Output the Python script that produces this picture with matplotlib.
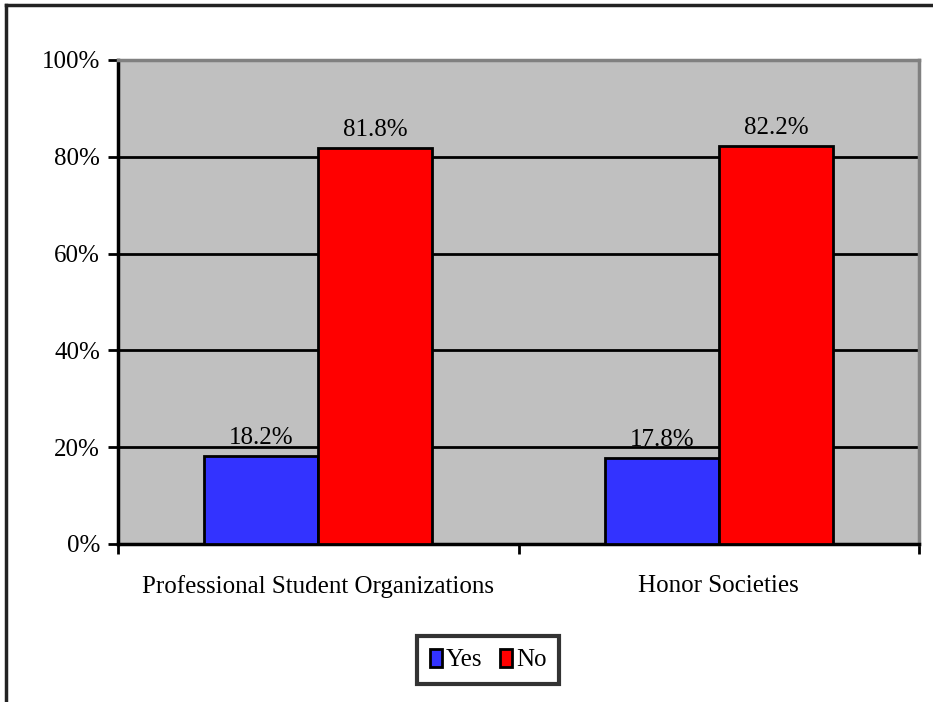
import matplotlib
matplotlib.use("Agg")
import matplotlib.pyplot as plt
from matplotlib.lines import Line2D
from matplotlib.patches import Patch
import numpy as np

categories = ["Professional Student Organizations", "Honor Societies"]
series_names = ["Yes", "No"]
yes_values = [18.2, 17.8]
no_values = [81.8, 82.2]
yticks = [0, 20, 40, 60, 80, 100]
colors = ["#3333FF", "#FF0000"]

plt.rcParams['font.family'] = ['Liberation Serif', 'DejaVu Serif']

W, H = 933, 702
FS = 18
fig = plt.figure(figsize=(W/100, H/100), dpi=100)

# outer frame (top and left visible)
fig.add_artist(Line2D([6/W, 6/W], [0, 1-5/H], color="#222222", lw=2.5, transform=fig.transFigure))
fig.add_artist(Line2D([6/W, 1], [1-5/H, 1-5/H], color="#222222", lw=2.5, transform=fig.transFigure))

ax = fig.add_axes([118/W, 1-544/H, (919-118)/W, (544-60)/H])
ax.set_facecolor("#C0C0C0")

x = np.arange(len(categories))
bw = 0.285
bars_yes = ax.bar(x - bw/2, yes_values, bw, color=colors[0], edgecolor="black", linewidth=2, zorder=3)
bars_no = ax.bar(x + bw/2, no_values, bw, color=colors[1], edgecolor="black", linewidth=2, zorder=3)

for bars, vals in [(bars_yes, yes_values), (bars_no, no_values)]:
    for b, v in zip(bars, vals):
        ax.annotate(f"{v:.1f}%", (b.get_x() + b.get_width()/2, v), xytext=(0, 5),
                    textcoords="offset points", ha="center", va="bottom", fontsize=FS, zorder=4)

ax.set_xlim(-0.5, len(categories) - 0.5)
ax.set_ylim(0, 100)
ax.set_yticks(yticks)
ax.set_yticklabels([f"{t}%" for t in yticks], fontsize=FS)
ax.yaxis.grid(True, color="black", linewidth=2)
ax.set_axisbelow(True)

ax.set_xticks([-0.5, 0.5, 1.5])
ax.set_xticklabels([])
ax.set_xticks(x, minor=True)
ax.set_xticklabels(categories, minor=True, fontsize=FS)
ax.tick_params(axis="x", which="minor", length=0, pad=22)
ax.tick_params(axis="x", which="major", direction="out", length=7, width=2)
ax.tick_params(axis="y", direction="out", length=7, width=2, pad=6)

ax.spines["left"].set_color("black")
ax.spines["left"].set_linewidth(2.5)
ax.spines["bottom"].set_color("black")
ax.spines["bottom"].set_linewidth(2.5)
ax.spines["top"].set_color("#808080")
ax.spines["top"].set_linewidth(2.5)
ax.spines["right"].set_color("#808080")
ax.spines["right"].set_linewidth(2.5)

handles = [Patch(facecolor=colors[0], edgecolor="black", linewidth=2),
           Patch(facecolor=colors[1], edgecolor="black", linewidth=2)]
leg = fig.legend(handles, series_names, loc="center", bbox_to_anchor=(488/W, 1-660/H),
                 ncol=2, fontsize=FS, frameon=True, fancybox=False, edgecolor="black",
                 handlelength=0.5, handleheight=0.75, handletextpad=0.15, columnspacing=0.7,
                 borderpad=0.5, borderaxespad=0)
leg.get_frame().set_linewidth(3)

fig.savefig("out.png", dpi=100)
